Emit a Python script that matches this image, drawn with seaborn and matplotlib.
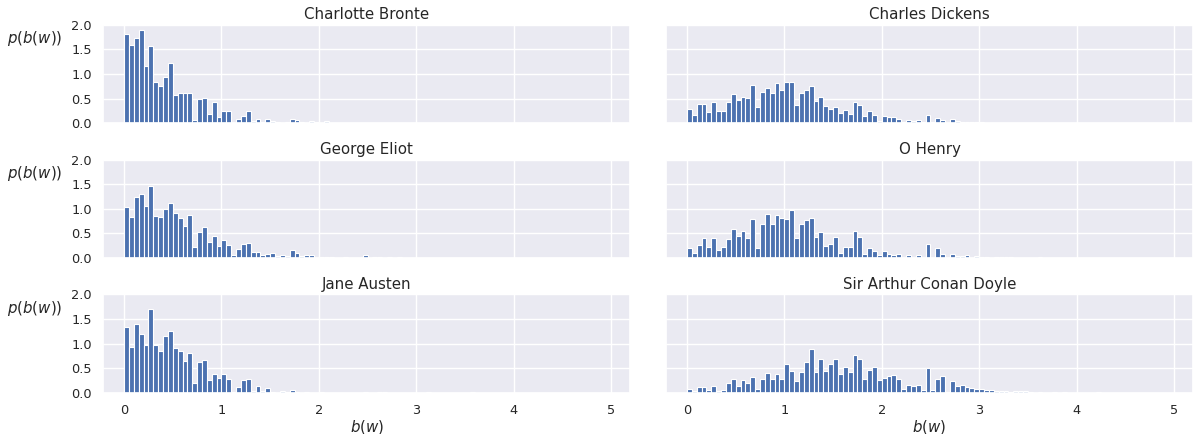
import numpy as np
import pandas as pd
import matplotlib
matplotlib.use('Agg')
import matplotlib.pyplot as plt
import seaborn as sns

# bar heights, bins of width 0.05 starting at 0
bronte = [1.81, 1.59, 1.74, 1.89, 1.17, 1.56, 0.84, 0.75, 0.94, 1.22,
          0.58, 0.62, 0.62, 0.62, 0.06, 0.49, 0.51, 0.18, 0.42, 0.13,
          0.24, 0.24, 0.0, 0.08, 0.14, 0.24, 0.04, 0.08, 0.02, 0.08,
          0.04, 0.02, 0.0, 0.02, 0.08, 0.06, 0.02, 0.0, 0.04, 0.02,
          0.0, 0.04, 0.01, 0.01, 0.01, 0.0, 0.01, 0.01, 0.0, 0.01,
          0.0, 0.01, 0.01, 0.01, 0.0, 0.01, 0.0, 0.0, 0.0, 0.0,
          0.01, 0.0, 0.0, 0.0, 0.0, 0.0, 0.0, 0.01]
dickens = [0.29, 0.17, 0.38, 0.38, 0.23, 0.42, 0.25, 0.25, 0.42, 0.60,
           0.47, 0.53, 0.51, 0.77, 0.32, 0.64, 0.71, 0.62, 0.82, 0.68,
           0.84, 0.84, 0.36, 0.62, 0.68, 0.75, 0.45, 0.53, 0.34, 0.29,
           0.32, 0.21, 0.27, 0.19, 0.42, 0.36, 0.15, 0.25, 0.17, 0.04,
           0.15, 0.12, 0.12, 0.08, 0.03, 0.06, 0.04, 0.06, 0.03, 0.17,
           0.02, 0.10, 0.06, 0.0, 0.08, 0.04, 0.02, 0.02, 0.02, 0.02,
           0.02, 0.01, 0.01, 0.01, 0.01, 0.01, 0.0, 0.01, 0.01, 0.0,
           0.01, 0.01, 0.0, 0.01, 0.0, 0.0, 0.0, 0.0, 0.0, 0.0,
           0.0, 0.0, 0.0, 0.0, 0.0, 0.0, 0.0, 0.0, 0.0, 0.0,
           0.0, 0.0, 0.0, 0.0, 0.0, 0.01]
eliot = [1.03, 0.83, 1.23, 1.31, 1.05, 1.47, 0.85, 0.83, 0.99, 1.11,
         0.92, 0.81, 0.65, 0.88, 0.22, 0.53, 0.63, 0.33, 0.44, 0.24,
         0.37, 0.26, 0.07, 0.19, 0.28, 0.31, 0.13, 0.13, 0.05, 0.08,
         0.10, 0.03, 0.07, 0.03, 0.17, 0.10, 0.03, 0.07, 0.05, 0.0,
         0.02, 0.02, 0.02, 0.0, 0.0, 0.01, 0.0, 0.0, 0.0, 0.05,
         0.0, 0.02, 0.02, 0.0, 0.02, 0.0, 0.01]
ohenry = [0.20, 0.11, 0.26, 0.41, 0.22, 0.41, 0.17, 0.22, 0.38, 0.59,
          0.44, 0.55, 0.40, 0.79, 0.20, 0.68, 0.90, 0.70, 0.88, 0.81,
          0.79, 0.97, 0.40, 0.68, 0.77, 0.81, 0.42, 0.53, 0.24, 0.28,
          0.42, 0.11, 0.22, 0.22, 0.55, 0.42, 0.09, 0.20, 0.15, 0.05,
          0.15, 0.09, 0.05, 0.09, 0.0, 0.05, 0.0, 0.07, 0.0, 0.28,
          0.0, 0.20, 0.09, 0.0, 0.09, 0.03, 0.03, 0.07, 0.0, 0.03,
          0.01, 0.01, 0.0, 0.01, 0.01, 0.01, 0.01, 0.0, 0.0, 0.0,
          0.0, 0.0, 0.01]
austen = [1.34, 0.94, 1.39, 1.19, 0.97, 1.71, 0.97, 0.84, 1.15, 1.26,
          0.92, 0.84, 0.65, 0.80, 0.20, 0.62, 0.67, 0.25, 0.38, 0.31,
          0.38, 0.27, 0.01, 0.11, 0.25, 0.29, 0.03, 0.13, 0.03, 0.09,
          0.01, 0.0, 0.03, 0.01, 0.06, 0.01, 0.0, 0.01, 0.0, 0.0,
          0.02, 0.0, 0.0, 0.0, 0.0, 0.0, 0.0, 0.0, 0.0, 0.02,
          0.0, 0.0, 0.01, 0.01, 0.0, 0.0, 0.0, 0.0, 0.0, 0.0,
          0.0, 0.0, 0.01, 0.0, 0.0, 0.0, 0.0, 0.0, 0.0, 0.0,
          0.0, 0.02]
doyle = [0.08, 0.04, 0.12, 0.12, 0.06, 0.14, 0.04, 0.06, 0.19, 0.27,
         0.14, 0.25, 0.19, 0.32, 0.08, 0.29, 0.40, 0.27, 0.38, 0.29,
         0.59, 0.44, 0.23, 0.42, 0.63, 0.88, 0.42, 0.68, 0.44, 0.59,
         0.68, 0.38, 0.53, 0.42, 0.77, 0.68, 0.29, 0.46, 0.53, 0.25,
         0.31, 0.34, 0.36, 0.29, 0.08, 0.16, 0.14, 0.16, 0.06, 0.51,
         0.06, 0.29, 0.34, 0.01, 0.23, 0.14, 0.16, 0.12, 0.10, 0.08,
         0.08, 0.06, 0.06, 0.04, 0.04, 0.04, 0.02, 0.03, 0.03, 0.03,
         0.01, 0.0, 0.01, 0.0, 0.0, 0.01, 0.0, 0.01, 0.0, 0.0,
         0.0, 0.0, 0.0, 0.0, 0.01]

authors = ['Charlotte Bronte', 'Charles Dickens', 'George Eliot',
           'O Henry', 'Jane Austen', 'Sir Arthur Conan Doyle']
heights = [bronte, dickens, eliot, ohenry, austen, doyle]

bin_width = 0.05
edges = np.arange(0, 101) * bin_width

sns.set_theme(style='darkgrid')

fig, axes = plt.subplots(3, 2, figsize=(11.99, 4.34), sharex=True, sharey=True)
fig.subplots_adjust(left=0.086, right=0.995, top=0.943, bottom=0.095,
                    hspace=0.37, wspace=0.068)

for ax, name, h in zip(axes.flat, authors, heights):
    df = pd.DataFrame({'b': edges[:len(h)] + bin_width / 2, 'p': h})
    sns.histplot(data=df, x='b', weights='p', bins=edges.tolist(), stat='count',
                 color='#4C72B0', edgecolor='white', linewidth=0.8,
                 alpha=1.0, ax=ax)
    ax.set_title(name, fontsize=10.8, pad=4)
    ax.set_xlim(-0.215, 5.195)
    ax.set_ylim(0, 2.0)
    ax.set_yticks([0.0, 0.5, 1.0, 1.5, 2.0])
    ax.set_xticks([0, 1, 2, 3, 4, 5])
    ax.tick_params(labelsize=9.3, pad=2)
    ax.set_xlabel('')
    ax.set_ylabel('')

for ax in axes[:, 0]:
    ax.set_ylabel('$p(b(w))$', fontsize=10.8, rotation=0, ha='center', va='center')
    ax.yaxis.set_label_coords(-0.129, 0.86)
for ax in axes[-1, :]:
    ax.set_xlabel('$b(w)$', fontsize=10.8, labelpad=1)

fig.savefig('out.png', dpi=100)
